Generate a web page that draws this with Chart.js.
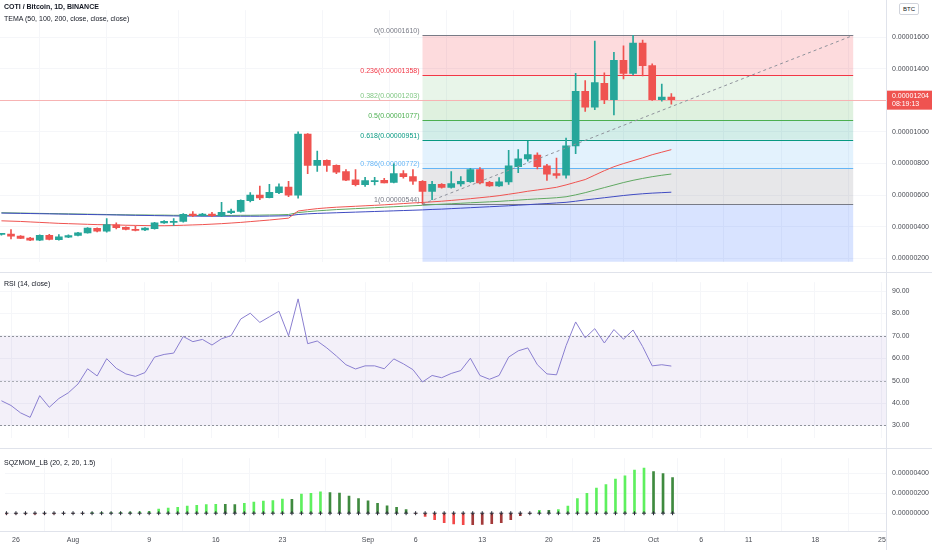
<!DOCTYPE html>
<html><head><meta charset="utf-8">
<script src="https://cdn.jsdelivr.net/npm/chart.js@4.4.1/dist/chart.umd.min.js"></script>
<style>
html,body{margin:0;padding:0;background:#fff;width:932px;height:550px;overflow:hidden;font-family:'Liberation Sans Narrow','Liberation Sans',Arial,sans-serif}
.pane{position:absolute;left:0;width:932px}
.pane canvas{display:block}
.lbl{position:absolute;left:4px;font-size:7px;line-height:8px;color:#131722;white-space:nowrap}
.hl{position:absolute;left:0;width:932px;height:1px;background:#e0e3eb}
.vl{position:absolute;top:0;left:886px;width:1px;height:550px;background:#e0e3eb}
.btc{position:absolute;left:899px;top:3px;font-size:6px;line-height:8px;padding:1px 3px;border:1px solid #d1d4dc;border-radius:2px;color:#131722;background:#fff}
</style></head><body>
<div class="pane" style="top:0;height:272px"><canvas id="cPrice" width="932" height="272"></canvas></div>
<div class="pane" style="top:272px;height:176px"><canvas id="cRsi" width="932" height="176"></canvas></div>
<div class="pane" style="top:448px;height:102px"><canvas id="cSqz" width="932" height="102"></canvas></div>
<div class="hl" style="top:272px"></div>
<div class="hl" style="top:448px"></div>
<div class="hl" style="top:531px;width:886px"></div>
<div class="vl"></div>
<div class="lbl" style="top:3px;font-weight:bold">COTI / Bitcoin, 1D, BINANCE</div>
<div class="lbl" style="top:15px">TEMA (50, 100, 200, close, close, close)</div>
<div class="lbl" style="top:280px">RSI (14, close)</div>
<div class="lbl" style="top:459px">SQZMOM_LB (20, 2, 20, 1.5)</div>
<div class="btc">BTC</div>
<script>
// ---------- DATA (prices in satoshi = 1e-8 BTC) ----------
const dates = [
 '07-25','07-26','07-27','07-28','07-29','07-30','07-31',
 '08-01','08-02','08-03','08-04','08-05','08-06','08-07','08-08','08-09','08-10','08-11','08-12','08-13','08-14','08-15','08-16',
 '08-17','08-18','08-19','08-20','08-21','08-22','08-23','08-24','08-25','08-26','08-27','08-28','08-29','08-30','08-31',
 '09-01','09-02','09-03','09-04','09-05','09-06','09-07','09-08','09-09','09-10','09-11','09-12','09-13','09-14','09-15',
 '09-16','09-17','09-18','09-19','09-20','09-21','09-22','09-23','09-24','09-25','09-26','09-27','09-28','09-29','09-30',
 '10-01','10-02','10-03'];
const opens = [352,354,341,329,315,347,319,335,345,362,390,372,413,397,384,380,388,425,428,434,481,471,481,469,489,497,565,600,585,616,651,
 600,986,789,820,789,750,697,666,686,694,680,737,717,688,624,668,649,672,686,762,682,659,684,781,830,854,785,737,727,912,
 1257,1156,1308,1204,1452,1370,1561,1419,1204,1220];
const highs = [358,382,345,333,350,352,351,350,366,395,394,452,425,400,405,396,428,440,452,484,497,485,491,555,512,570,616,658,668,672,688,
 1000,990,879,824,792,762,762,713,713,707,799,756,762,692,688,674,750,717,770,774,688,711,883,889,941,868,795,834,961,1370,
 1325,1575,1374,1503,1545,1610,1580,1430,1302,1243];
const lows = [348,323,325,312,312,318,316,332,343,360,368,366,386,380,374,376,385,422,409,430,464,468,464,464,483,493,557,571,582,610,590,
 581,736,750,750,736,692,658,655,665,678,678,707,668,544,571,645,645,657,680,672,655,655,668,742,815,766,694,707,707,863,
 1130,1140,1179,1107,1335,1360,1354,1199,1195,1175];
const closes = [354,341,327,315,347,321,337,345,362,392,372,415,395,384,378,392,425,434,434,479,471,481,471,491,499,567,600,582,618,653,600,
 986,789,820,789,746,695,666,692,692,678,737,717,688,624,668,649,674,688,762,678,659,684,785,830,857,780,733,725,912,1257,
 1156,1312,1204,1452,1370,1561,1419,1204,1220,1204];
const tema50  = [438,436,434,431,428,425,422,420,418,416,414,413,412,410,409,408,407,407,408,410,412,414,417,420,424,428,433,438,443,449,455,
 500,508,515,520,524,527,530,533,536,539,543,547,551,554,558,562,567,572,578,584,590,597,606,615,625,633,641,650,
 665,682,699,727,755,780,800,818,836,856,872,888];
const tema100 = [489,488,487,486,485,484,483,482,481,480,479,478,477,476,475,475,474,474,473,473,472,472,472,472,472,473,473,474,475,476,478,
 490,496,501,505,509,512,515,518,521,524,527,530,533,536,540,543,546,549,552,555,558,561,565,569,573,577,580,584,590,602,
 616,632,648,664,680,694,706,717,726,734];
const tema200 = [487,486,485,484,483,482,481,480,479,478,477,476,475,474,473,472,471,470,469,468,468,467,467,467,467,467,467,467,468,469,470,
 478,482,485,487,489,491,493,495,497,499,501,503,505,507,510,512,515,518,521,524,527,530,533,537,540,544,547,551,555,562,
 570,577,584,591,598,604,609,613,616,619];
const rsi = [41.0,38.9,35.6,33.6,43.3,38.1,42.0,44.6,48.5,55.3,52.1,59.8,55.5,53.0,51.9,53.6,60.5,61.7,62.3,69.7,67.4,68.4,65.9,68.7,70.1,
 77.5,80.1,76.0,78.5,81.0,70.0,86.5,66.5,67.7,64.6,61.0,57.1,55.2,56.6,56.6,55.3,59.7,57.5,54.9,49.4,52.3,51.3,53.2,54.5,60.0,
 52.3,50.6,52.3,60.5,63.3,64.6,57.1,53.0,52.6,65.6,76.2,69.1,73.2,66.8,72.8,68.5,72.6,65.2,56.6,57.1,56.5];
const sqzMom = [-8,-8,-8,-10,-6,-8,-5,-5,-3,4,5,7,9,11,13,18,40,50,58,70,79,85,88,88,86,99,111,120,126,140,138,
 190,199,213,207,201,172,146,123,99,73,58,35,-3,-32,-65,-95,-108,-115,-115,-112,-105,-95,-65,-25,-3,29,29,35,70,146,
 199,251,286,342,374,432,450,415,397,356];
const tickDates  = ['07-26','08-01','08-09','08-16','08-23','09-01','09-06','09-13','09-20','09-25','10-01','10-06','10-11','10-18','10-25'];
const tickLabels = ['26','Aug','9','16','23','Sep','6','13','20','25','Oct','6','11','18','25'];
const priceTicks = [200,400,600,800,1000,1200,1400,1600];
const rsiTicks = [30,40,50,60,70,80,90];
const sqzTicks = [0,200,400];
const fibHigh = 1610, fibLow = 544, fibStart = '09-07', fibEnd = '10-22';
const fibRatios = [0,0.236,0.382,0.5,0.618,0.786,1,1.618];
const livePriceTime = '08:19:13';

// ---------- helpers ----------
const FONT = "'Liberation Sans Narrow','Liberation Sans',Arial,sans-serif";
const UP = '#26a69a', DOWN = '#ef5350';
const dayOf = s => { const [m,d] = s.split('-').map(Number); return (Date.UTC(2021,m-1,d) - Date.UTC(2021,6,26)) / 864e5; };
const days = dates.map(dayOf);
const tickDays = tickDates.map(dayOf);
const X_MIN = -1.15, X_MAX = 91.43;
const sat = v => (v / 1e8).toFixed(8);
const GRID = '#f5f6f9';

function xAxis(show){
  return {type:'linear', min:X_MIN, max:X_MAX, offset:false,
    grid:{color:GRID, drawTicks:false}, border:{display:false},
    afterBuildTicks: s => { s.ticks = tickDays.map(v => ({value:v})); },
    ticks:{display:show, autoSkip:false, maxRotation:0, padding:5, color:'#4a4d55',
      font:{family:FONT, size:7}, callback: v => tickLabels[tickDays.indexOf(v)]},
    afterFit: s => { s.height = show ? 19 : 0; }};
}
function yAxis(min, max, ticks, fmt){
  return {position:'right', min, max,
    grid:{color:GRID, drawTicks:false}, border:{display:false},
    afterBuildTicks: s => { s.ticks = ticks.map(v => ({value:v})); },
    ticks:{autoSkip:false, padding:6, color:'#4a4d55', font:{family:FONT, size:7}, callback: fmt},
    afterFit: s => { s.width = 46; }};
}
const baseOpts = {animation:false, responsive:false, maintainAspectRatio:false, layout:{padding:0},
  plugins:{legend:{display:false}, tooltip:{enabled:false}}};

// ---------- PRICE ----------
const candleCols = closes.map((c,i) => c >= opens[i] ? UP : DOWN);
const fibColors = ['#787b86','#f23645','#81c784','#4caf50','#089981','#64b5f6','#787b86','#2962ff'];
const hexA = (h,a) => { const n = parseInt(h.slice(1),16); return `rgba(${n>>16},${(n>>8)&255},${n&255},${a})`; };
const fibPlugin = {
  id:'fib',
  beforeDatasetsDraw(chart){
    const {ctx, chartArea:a, scales:{x,y}} = chart;
    const x0 = x.getPixelForValue(dayOf(fibStart)), x1 = x.getPixelForValue(dayOf(fibEnd));
    const prices = fibRatios.map(r => fibHigh - r * (fibHigh - fibLow));
    ctx.save();
    ctx.beginPath(); ctx.rect(a.left, a.top, a.right - a.left, a.bottom - a.top); ctx.clip();
    for (let i = 0; i < prices.length - 1; i++){
      const t = y.getPixelForValue(prices[i]), b = y.getPixelForValue(prices[i+1]);
      ctx.fillStyle = hexA(fibColors[i+1], 0.18);
      ctx.fillRect(x0, t, x1 - x0, b - t);
    }
    ctx.font = `7px ${FONT}`; ctx.textAlign = 'right'; ctx.textBaseline = 'bottom';
    prices.forEach((p,i) => {
      const py = Math.round(y.getPixelForValue(p)) + 0.5;
      ctx.strokeStyle = fibColors[i]; ctx.lineWidth = 1;
      ctx.beginPath(); ctx.moveTo(x0, py); ctx.lineTo(x1, py); ctx.stroke();
      ctx.fillStyle = fibColors[i];
      ctx.fillText(`${fibRatios[i]}(${sat(p)})`, x0 - 3, py - 1);
    });
    const ly = Math.round(y.getPixelForValue(closes[closes.length-1])) + 0.5;
    ctx.strokeStyle = '#f7b3b3'; ctx.beginPath(); ctx.moveTo(a.left, ly); ctx.lineTo(a.right, ly); ctx.stroke();
    ctx.restore();
  },
  afterDraw(chart){
    const {ctx, chartArea:a, scales:{y}} = chart;
    const last = closes[closes.length-1];
    const ly = y.getPixelForValue(last);
    ctx.save();
    ctx.fillStyle = '#ef5350';
    ctx.fillRect(a.right + 1, ly - 9, 45, 19);
    ctx.fillStyle = '#fff'; ctx.font = `7px ${FONT}`; ctx.textAlign = 'left'; ctx.textBaseline = 'middle';
    ctx.fillText(sat(last), a.right + 6, ly - 4);
    ctx.fillText(livePriceTime, a.right + 6, ly + 4.5);
    ctx.restore();
  }
};
new Chart(document.getElementById('cPrice'), {
  type:'bar',
  data:{datasets:[
    {type:'line', label:'trend', data:[{x:dayOf(fibStart), y:fibLow},{x:dayOf(fibEnd), y:fibHigh}],
      borderColor:'#8f929b', borderWidth:1, borderDash:[3,3], pointRadius:0, order:0},
    {type:'bar', label:'body', data: days.map((d,i) => ({x:d, y:[opens[i], closes[i]]})),
      backgroundColor:candleCols, borderWidth:0, barThickness:7, minBarLength:1, grouped:false, order:1},
    {type:'bar', label:'wick', data: days.map((d,i) => ({x:d, y:[lows[i], highs[i]]})),
      backgroundColor:candleCols, borderWidth:0, barThickness:1, grouped:false, order:2},
    {type:'line', label:'TEMA 50', data: days.map((d,i) => ({x:d, y:tema50[i]})), borderColor:'#ef5350', borderWidth:1, pointRadius:0, order:3},
    {type:'line', label:'TEMA 200', data: days.map((d,i) => ({x:d, y:tema200[i]})), borderColor:'#3f4bc2', borderWidth:1, pointRadius:0, order:4},
    {type:'line', label:'TEMA 100', data: days.map((d,i) => ({x:d, y:tema100[i]})), borderColor:'#5fa861', borderWidth:1, pointRadius:0, order:5}
  ]},
  options:{...baseOpts, scales:{x:xAxis(false), y:yAxis(178.9, 1769.6, priceTicks, v => v === 1200 ? '' : sat(v))}},
  plugins:[fibPlugin]
});

// ---------- RSI ----------
const rsiPlugin = {
  id:'rsiBand',
  beforeDatasetsDraw(chart){
    const {ctx, chartArea:a, scales:{y}} = chart;
    const t = y.getPixelForValue(70), b = y.getPixelForValue(30);
    ctx.save();
    ctx.fillStyle = 'rgba(126,87,194,0.09)';
    ctx.fillRect(a.left, t, a.right - a.left, b - t);
    ctx.setLineDash([2,2]); ctx.lineWidth = 1;
    [[70,'#8f929b'],[50,'#a8abb3'],[30,'#8f929b']].forEach(([v,c]) => {
      const py = Math.round(y.getPixelForValue(v)) + 0.5;
      ctx.strokeStyle = c; ctx.beginPath(); ctx.moveTo(a.left, py); ctx.lineTo(a.right, py); ctx.stroke();
    });
    ctx.restore();
  }
};
new Chart(document.getElementById('cRsi'), {
  type:'line',
  data:{datasets:[{label:'RSI', data: days.map((d,i) => ({x:d, y:rsi[i]})), borderColor:'#8a7fd0', borderWidth:1, pointRadius:0}]},
  options:{...baseOpts, scales:{x:xAxis(false), y:yAxis(24.47, 93.95, rsiTicks, v => v.toFixed(2))}},
  plugins:[rsiPlugin]
});

// ---------- SQZMOM ----------
const sqzCols = sqzMom.map((v,i) => { const p = i ? sqzMom[i-1] : 0;
  return v > 0 ? (v > p ? '#5ef05e' : '#3f8a3f') : (v < p ? '#f24848' : '#a33a3a'); });
new Chart(document.getElementById('cSqz'), {
  type:'bar',
  data:{datasets:[
    {type:'line', label:'squeeze', data: days.map(d => ({x:d, y:0})), showLine:false,
      pointStyle:'cross', pointRadius:2, borderColor:'#2a2e39', borderWidth:1, order:0},
    {type:'bar', label:'momentum', data: days.map((d,i) => ({x:d, y:sqzMom[i]})),
      backgroundColor:sqzCols, borderWidth:0, barThickness:2, grouped:false, order:1}
  ]},
  options:{...baseOpts, scales:{x:xAxis(true), y:yAxis(-178, 550, sqzTicks, v => sat(v))}}
});
</script>
</body></html>
